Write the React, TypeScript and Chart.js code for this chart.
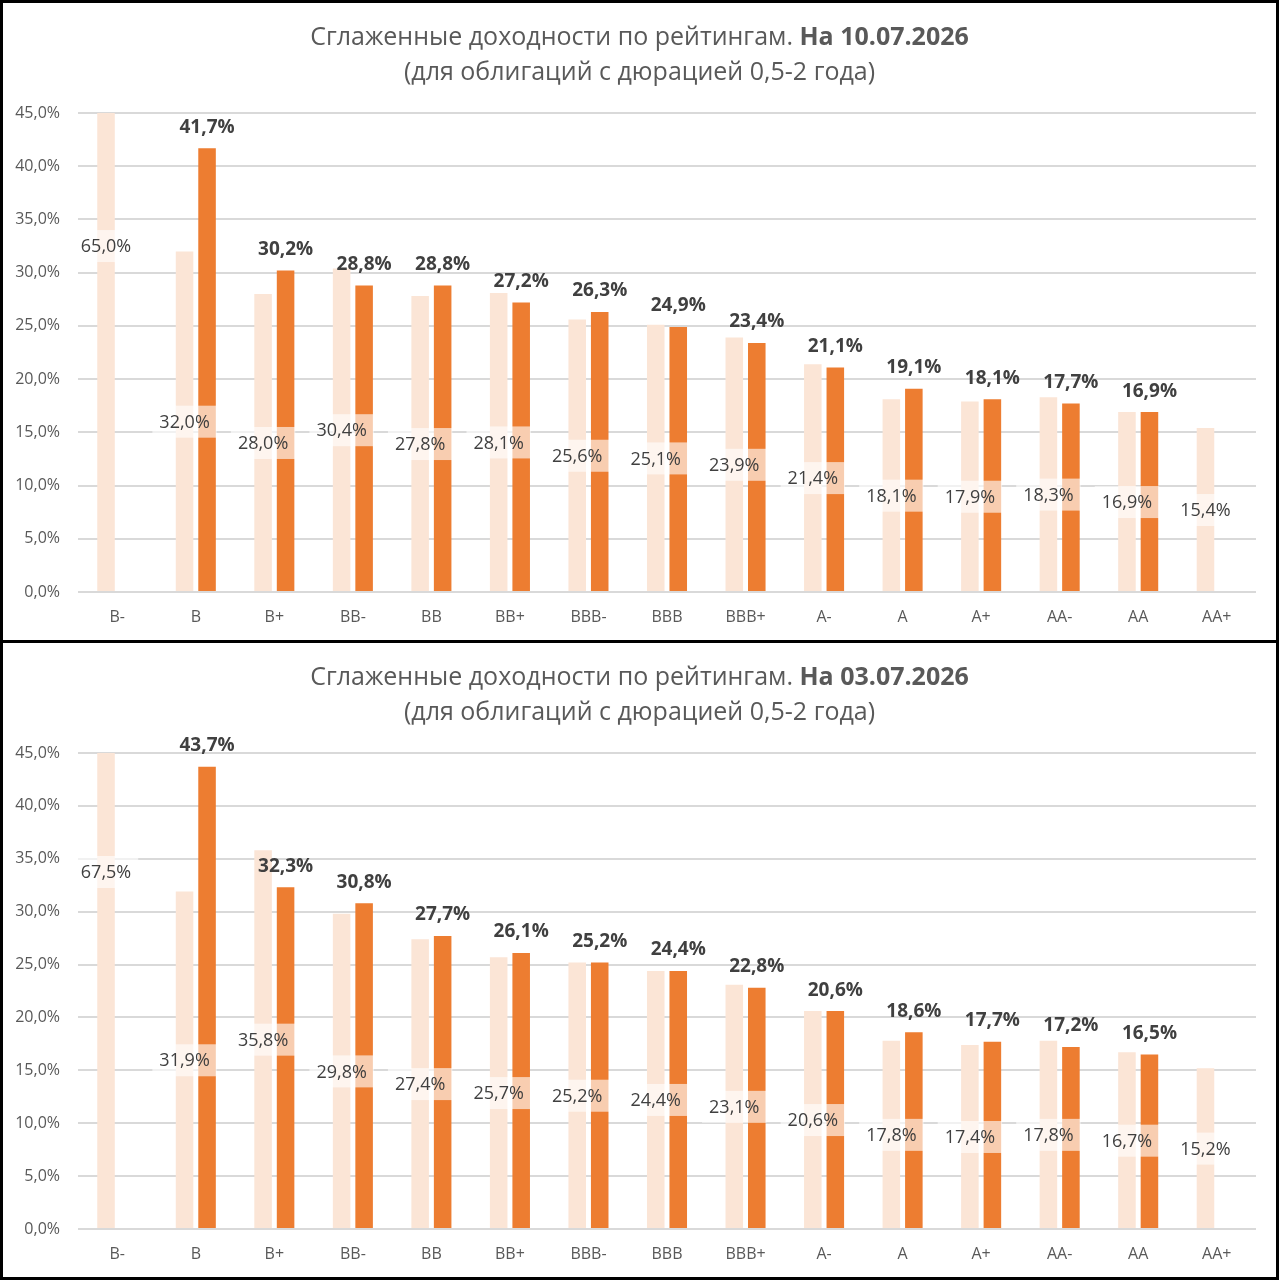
import React, { useEffect, useRef } from "react";
import { Chart, registerables } from "chart.js";

Chart.register(...registerables);

// Rating buckets on the category axis
const ratings = ["B-", "B", "B+", "BB-", "BB", "BB+", "BBB-", "BBB", "BBB+", "A-", "A", "A+", "AA-", "AA", "AA+"];

// Y axis range (percent)
const yMin = 0;
const yMax = 45;
const yStep = 5;

// Snapshot dated 10.07.2026
const rawJul10: (number | null)[] = [65.0, 32.0, 28.0, 30.4, 27.8, 28.1, 25.6, 25.1, 23.9, 21.4, 18.1, 17.9, 18.3, 16.9, 15.4];
const smoothJul10: (number | null)[] = [null, 41.7, 30.2, 28.8, 28.8, 27.2, 26.3, 24.9, 23.4, 21.1, 19.1, 18.1, 17.7, 16.9, null];

// Snapshot dated 03.07.2026
const rawJul03: (number | null)[] = [67.5, 31.9, 35.8, 29.8, 27.4, 25.7, 25.2, 24.4, 23.1, 20.6, 17.8, 17.4, 17.8, 16.7, 15.2];
const smoothJul03: (number | null)[] = [null, 43.7, 32.3, 30.8, 27.7, 26.1, 25.2, 24.4, 22.8, 20.6, 18.6, 17.7, 17.2, 16.5, null];

const titleMain = "Сглаженные доходности по рейтингам. ";
const titleSub = "(для облигаций с дюрацией 0,5-2 года)";

const FONT = '"Open Sans", "Noto Sans", sans-serif';
const LIGHT = "#FBE5D6";
const ORANGE = "#ED7D31";
const TEXT_DARK = "#404040";
const TEXT_GREY = "#595959";
const GRID = "#D9D9D9";

const fmt = (v: number) => v.toFixed(1).replace(".", ",") + "%";

function makeTitlePlugin(dateText: string) {
  return {
    id: "twoLineTitle",
    afterDraw(chart: any) {
      const ctx = chart.ctx as CanvasRenderingContext2D;
      const cx = chart.width / 2;
      ctx.save();
      ctx.fillStyle = TEXT_GREY;
      ctx.textBaseline = "middle";
      ctx.textAlign = "left";
      const regFont = `25px ${FONT}`;
      const boldFont = `bold 25px ${FONT}`;
      ctx.font = regFont;
      const w1 = ctx.measureText(titleMain).width;
      ctx.font = boldFont;
      const w2 = ctx.measureText("На " + dateText).width;
      const x0 = cx - (w1 + w2) / 2;
      ctx.font = regFont;
      ctx.fillText(titleMain, x0, 35);
      ctx.font = boldFont;
      ctx.fillText("На " + dateText, x0 + w1, 35);
      ctx.font = regFont;
      ctx.textAlign = "center";
      ctx.fillText(titleSub, cx, 70);
      ctx.restore();
    },
  };
}

const valueLabels = {
  id: "valueLabels",
  afterDatasetsDraw(chart: any) {
    const ctx = chart.ctx as CanvasRenderingContext2D;
    const yScale = chart.scales.y;
    ctx.save();
    ctx.textAlign = "center";
    ctx.textBaseline = "middle";

    // light series: value centred at half height, on a translucent white box
    const lightMeta = chart.getDatasetMeta(0);
    const lightData = chart.data.datasets[0].data as (number | null)[];
    ctx.font = `18px ${FONT}`;
    lightMeta.data.forEach((bar: any, i: number) => {
      const v = lightData[i];
      if (v == null) return;
      const cy = yScale.getPixelForValue(v / 2);
      const t = fmt(v);
      const w = ctx.measureText(t).width + 14;
      ctx.fillStyle = "rgba(255,255,255,0.62)";
      ctx.fillRect(bar.x - w / 2, cy - 16, w, 32);
      ctx.fillStyle = TEXT_DARK;
      ctx.fillText(t, bar.x, cy + 1);
    });

    // orange series: bold value above the bar
    const orangeMeta = chart.getDatasetMeta(1);
    const orangeData = chart.data.datasets[1].data as (number | null)[];
    ctx.font = `bold 19px ${FONT}`;
    ctx.fillStyle = TEXT_DARK;
    orangeMeta.data.forEach((bar: any, i: number) => {
      const v = orangeData[i];
      if (v == null) return;
      ctx.fillText(fmt(v), bar.x, bar.y - 21);
    });
    ctx.restore();
  },
};

function RatingChart({ raw, smooth, dateText, height }: { raw: (number | null)[]; smooth: (number | null)[]; dateText: string; height: number }) {
  const ref = useRef<HTMLCanvasElement>(null);

  useEffect(() => {
    if (!ref.current) return;
    const chart = new Chart(ref.current, {
      type: "bar",
      data: {
        labels: ratings,
        datasets: [
          { data: raw, backgroundColor: LIGHT, borderWidth: 0 },
          { data: smooth, backgroundColor: ORANGE, borderWidth: 0 },
        ],
      },
      options: {
        animation: false,
        responsive: false,
        devicePixelRatio: 1,
        categoryPercentage: 0.573,
        barPercentage: 0.78,
        layout: { padding: { top: 110, right: 20, left: 0, bottom: 0 } },
        plugins: {
          legend: { display: false },
          title: { display: false },
          tooltip: { enabled: false },
        },
        scales: {
          x: {
            grid: { display: false, drawTicks: false },
            border: { display: false },
            ticks: { color: TEXT_GREY, font: { family: FONT, size: 16 }, padding: 16 },
            afterFit: (s: any) => {
              s.height = 48;
            },
          },
          y: {
            min: yMin,
            max: yMax,
            grid: { color: GRID, lineWidth: 2, drawTicks: false },
            border: { display: false },
            ticks: {
              stepSize: yStep,
              color: TEXT_GREY,
              font: { family: FONT, size: 16 },
              padding: 18,
              callback: (v: any) => fmt(Number(v)),
            },
            afterFit: (s: any) => {
              s.width = 75;
            },
          },
        },
      },
      plugins: [makeTitlePlugin(dateText), valueLabels],
    } as any);
    return () => chart.destroy();
  }, [raw, smooth, dateText]);

  return <canvas ref={ref} width={1273} height={height} style={{ display: "block" }} />;
}

export default function App() {
  const panel: React.CSSProperties = {
    position: "absolute",
    left: 0,
    border: "3px solid #000",
    boxSizing: "border-box",
    background: "#fff",
    width: 1279,
  };
  return (
    <div style={{ position: "absolute", top: 0, left: 0, width: 1280, height: 1280, background: "#fff" }}>
      <div style={{ ...panel, top: 0, height: 643 }}>
        <RatingChart raw={rawJul10} smooth={smoothJul10} dateText="10.07.2026" height={637} />
      </div>
      <div style={{ ...panel, top: 640, height: 640 }}>
        <RatingChart raw={rawJul03} smooth={smoothJul03} dateText="03.07.2026" height={634} />
      </div>
    </div>
  );
}
